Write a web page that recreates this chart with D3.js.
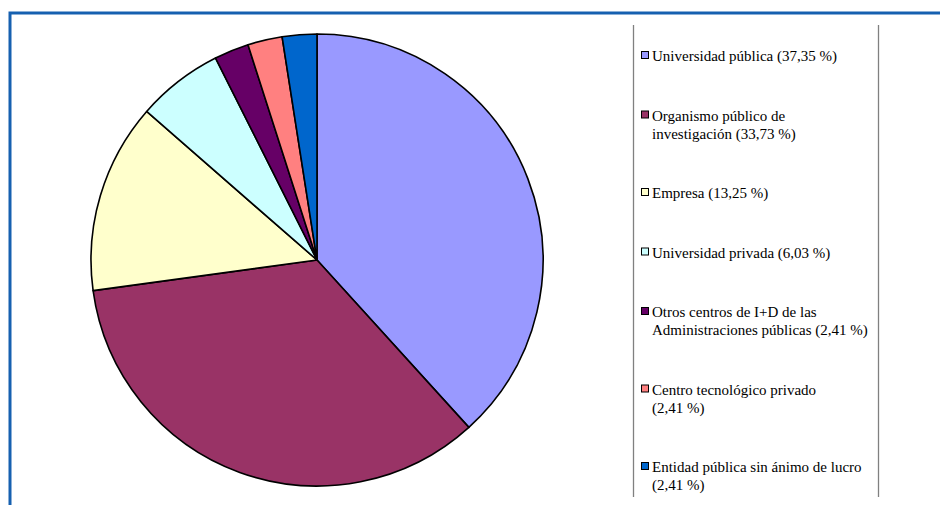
<!DOCTYPE html>
<html><head><meta charset="utf-8">
<script src="https://cdn.jsdelivr.net/npm/d3@7/dist/d3.min.js"></script>
<style>body{margin:0;background:#fff;}svg{display:block;}</style>
</head><body>
<svg id="chart" width="940" height="505"></svg>
<script>
const categories = [
  "Universidad pública",
  "Organismo público de investigación",
  "Empresa",
  "Universidad privada",
  "Otros centros de I+D de las Administraciones públicas",
  "Centro tecnológico privado",
  "Entidad pública sin ánimo de lucro"
];
const values = [37.35, 33.73, 13.25, 6.03, 2.41, 2.41, 2.41];
const legendLines = [
  ["Universidad pública (37,35 %)"],
  ["Organismo público de", "investigación (33,73 %)"],
  ["Empresa (13,25 %)"],
  ["Universidad privada (6,03 %)"],
  ["Otros centros de I+D de las", "Administraciones públicas (2,41 %)"],
  ["Centro tecnológico privado", "(2,41 %)"],
  ["Entidad pública sin ánimo de lucro", "(2,41 %)"]
];
const colors = ["#9999FF", "#993366", "#FFFFCC", "#CCFFFF", "#660066", "#FF8080", "#0066CC"];

const svg = d3.select("#chart");
const data = categories.map((c, i) => ({cat: c, value: values[i], lines: legendLines[i], color: colors[i]}));

// frame
svg.append("path")
  .attr("d", "M10,510 L10,13 L945,13")
  .attr("fill", "none").attr("stroke", "#1660B0").attr("stroke-width", 3);

// pie
const cx = 317, cy = 260, r = 226;
const pie = d3.pie().sort(null).value(d => d.value);
const arc = d3.arc().innerRadius(0).outerRadius(r);
const color = d3.scaleOrdinal().domain(categories).range(colors);
svg.append("g").attr("transform", `translate(${cx},${cy})`)
  .selectAll("path").data(pie(data)).join("path")
  .attr("d", arc)
  .attr("fill", d => color(d.data.cat))
  .attr("stroke", "#000").attr("stroke-width", 1.6).attr("stroke-linejoin", "round");

// legend box lines
const lg = svg.append("g");
lg.append("line").attr("x1", 633.5).attr("x2", 633.5).attr("y1", 25).attr("y2", 497).attr("stroke", "#808080").attr("stroke-width", 1.3);
lg.append("line").attr("x1", 878.5).attr("x2", 878.5).attr("y1", 25).attr("y2", 497).attr("stroke", "#808080").attr("stroke-width", 1.3);

const lineH = 18, baseStep = 59.5;
let y = 56;
data.forEach(d => {
  const g = lg.append("g").attr("transform", `translate(0,${y})`);
  g.append("rect").attr("x", 641.5).attr("y", -4.5).attr("width", 7).attr("height", 7)
    .attr("fill", color(d.cat)).attr("stroke", "#000").attr("stroke-width", 1);
  const t = g.append("text").attr("x", 652).attr("y", 0)
    .attr("font-family", "'Palatino Linotype','Book Antiqua',Palatino,'Liberation Serif',serif")
    .attr("font-size", 15).attr("fill", "#000").attr("dominant-baseline", "central");
  d.lines.forEach((ln, i) => {
    t.append("tspan").attr("x", 652).attr("y", i * lineH).text(ln);
  });
  y += baseStep + lineH * (d.lines.length - 1);
});
</script>
</body></html>
